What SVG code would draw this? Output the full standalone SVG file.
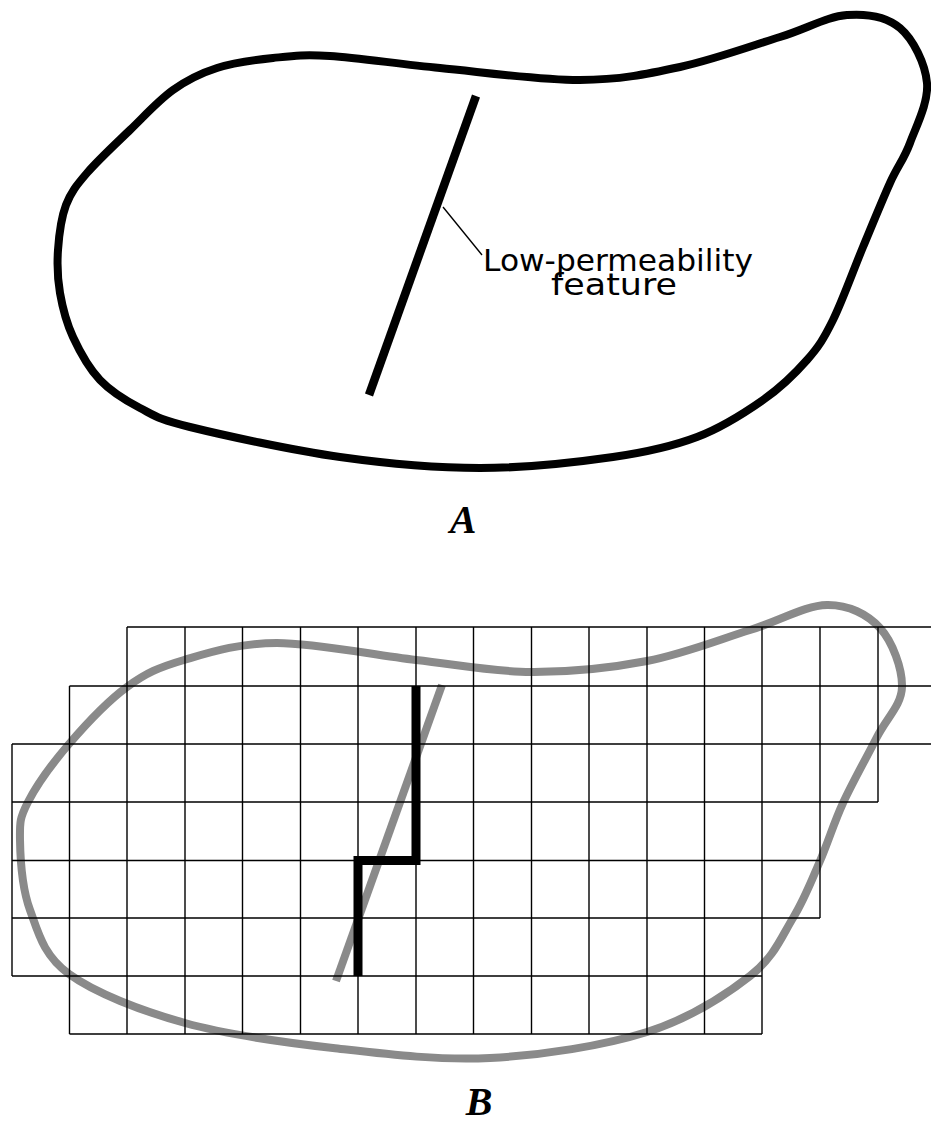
<svg xmlns="http://www.w3.org/2000/svg" width="931" height="1122" viewBox="0 0 931 1122">
<style>
.outline{fill:none;stroke:#000;stroke-width:8;stroke-linejoin:round}
.feat{fill:none;stroke:#000;stroke-width:8.5}
.lead{fill:none;stroke:#000;stroke-width:1.3}
.lbl{font-family:"DejaVu Sans","Liberation Sans",sans-serif;font-size:30px;fill:#000;text-anchor:middle}
.panel{font-family:"Liberation Serif","DejaVu Serif",serif;font-size:40px;font-weight:bold;font-style:italic;fill:#000;text-anchor:middle}
.grid{fill:none;stroke:#000;stroke-width:1.4}
.gray{fill:none;stroke:#8a8a8a;stroke-width:8;stroke-linejoin:round}
.stair{fill:none;stroke:#000;stroke-width:9;stroke-linejoin:miter}
</style>
<rect width="931" height="1122" fill="#fff"/>
<g id="panelA">
  <g id="boundaryA">
    <path class="outline" d="M 58,250 C 59,235.3 61.2,217.8 66,205 C 70.8,192.2 76.3,185.5 87,173 C 97.7,160.5 115.7,143.8 130,130 C 144.3,116.2 158.5,100.3 173,90 C 187.5,79.7 200.3,73.3 217,68 C 233.7,62.7 254.2,60 273,58 C 291.8,56 302.2,54.3 330,56 C 357.8,57.7 398.3,64 440,68 C 481.7,72 540,80.2 580,80 C 620,79.8 646.7,74.2 680,67 C 713.3,59.8 752.2,45.7 780,37 C 807.8,28.3 827,16.5 847,15 C 867,13.5 886.7,16.7 900,28 C 913.3,39.3 925.3,63.8 927,83 C 928.7,102.2 916.2,126.3 910,143 C 903.8,159.7 897.8,165.7 890,183 C 882.2,200.3 872.5,224.2 863,247 C 853.5,269.8 842.3,301.2 833,320 C 823.7,338.8 818.7,346.7 807,360 C 795.3,373.3 781.3,387.2 763,400 C 744.7,412.8 722,427.5 697,437 C 672,446.5 649.2,451.8 613,457 C 576.8,462.2 525.5,468 480,468 C 434.5,468 388.3,463.8 340,457 C 291.7,450.2 223.3,435.2 190,427 C 156.7,418.8 155,415.8 140,408 C 125,400.2 111.2,391.8 100,380 C 88.8,368.2 79.7,351.5 73,337 C 66.3,322.5 62.5,307.5 60,293 C 57.5,278.5 57,264.7 58,250 Z"/>
  </g>
  <g id="featureA">
    <line class="feat" x1="476" y1="96" x2="369" y2="395"/>
  </g>
  <g id="labelFeature">
    <text class="lbl" x="618" y="271" textLength="270" lengthAdjust="spacingAndGlyphs">Low-permeability</text>
    <text class="lbl" x="614" y="295" textLength="126" lengthAdjust="spacingAndGlyphs">feature</text>
  </g>
  <text id="labelA" class="panel" x="463" y="533">A</text>
</g>
<g id="connectors">
  <line class="lead" x1="443" y1="207" x2="482" y2="255"/>
</g>
<g id="panelB">
  <g id="boundaryB">
    <path class="gray" d="M 20,840 C 19.7,822 19.8,818 28,802 C 36.2,786 52.5,763.2 69,744 C 85.5,724.8 107.8,701 127,687 C 146.2,673 159,667.3 184,660 C 209,652.7 238.3,643 277,643 C 315.7,643 373.7,655.2 416,660 C 458.3,664.8 492.5,671.8 531,672 C 569.5,672.2 610.5,668 647,661 C 683.5,654 720,639.3 750,630 C 780,620.7 805.3,605.3 827,605 C 848.7,604.7 867.5,614.3 880,628 C 892.5,641.7 902.5,668.8 902,687 C 901.5,705.2 886.8,717.7 877,737 C 867.2,756.3 852.5,782.3 843,803 C 833.5,823.7 828.3,841.8 820,861 C 811.7,880.2 804.7,898.8 793,918 C 781.3,937.2 774.3,957 750,976 C 725.7,995 690.3,1018.3 647,1032 C 603.7,1045.7 542.3,1055.3 490,1058 C 437.7,1060.7 383.8,1053.8 333,1048 C 282.2,1042.2 229,1035.3 185,1023 C 141,1010.7 94.8,992.8 69,974 C 43.2,955.2 38.2,932.3 30,910 C 21.8,887.7 20.3,858 20,840 Z"/>
  </g>
  <g id="featureB">
    <line class="gray" x1="442" y1="685" x2="336" y2="981"/>
  </g>
  <g id="grid">
    <path class="grid" d="M127,627H931 M69.5,686H931 M12,744H931 M12,802H878 M12,860.5H820 M12,918H820 M12,976H762 M69.5,1034H762
      M12,744V976 M69.5,686V1034
      M127,627V1034 M185,627V1034 M242.5,627V1034 M300.5,627V1034 M358,627V1034 M416,627V1034 M473.5,627V1034 M531.5,627V1034 M589,627V1034 M647,627V1034 M704.5,627V1034 M762,627V1034
      M820,627V918 M878,627V802"/>
  </g>
  <g id="gridFeature">
    <path class="stair" d="M416,686 V860.5 H358 V976"/>
  </g>
  <text id="labelB" class="panel" x="479" y="1115">B</text>
</g>
</svg>
